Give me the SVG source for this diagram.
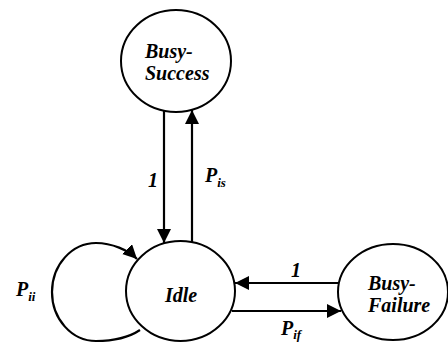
<svg xmlns="http://www.w3.org/2000/svg" width="448" height="343" viewBox="0 0 448 343">
<style>
.node{fill:#fff;stroke:#000;stroke-width:2}
.edge{fill:none;stroke:#000;stroke-width:2.2}
text{font-family:"Liberation Serif","Times New Roman",serif;font-weight:bold;font-style:italic;fill:#000}
.lbl{font-size:20px}
.sub{font-size:13px}
</style>
<defs>
<marker id="ah" markerUnits="userSpaceOnUse" markerWidth="15" markerHeight="15" refX="14" refY="7" orient="auto">
<path d="M0,0 L14,7 L0,14 z" fill="#000"/>
</marker>
</defs>
<rect width="448" height="343" fill="#fff"/>
<g id="busy-success">
<ellipse class="node" cx="176" cy="61" rx="55" ry="51"/>
<text class="lbl" x="145" y="58">Busy-</text>
<text class="lbl" x="145" y="80">Success</text>
</g>
<g id="idle">
<ellipse class="node" cx="180.5" cy="291" rx="54.5" ry="50"/>
<text class="lbl" x="165" y="302">Idle</text>
</g>
<g id="busy-failure">
<ellipse class="node" cx="393" cy="292" rx="55" ry="48"/>
<text class="lbl" x="368" y="290">Busy-</text>
<text class="lbl" x="368" y="312">Failure</text>
</g>
<g id="connectors">
<line class="edge" x1="164" y1="111" x2="164" y2="243" marker-end="url(#ah)"/>
<line class="edge" x1="192" y1="242" x2="192" y2="110" marker-end="url(#ah)"/>
<line class="edge" x1="339" y1="283" x2="235" y2="283" marker-end="url(#ah)"/>
<line class="edge" x1="232" y1="311" x2="341" y2="311" marker-end="url(#ah)"/>
<path class="edge" d="M140,330 C128,338 112,341 96,341 C71.7,341 52,319 52,292 C52,265 71.7,243 96,243 C112,243 128,250 137,259" marker-end="url(#ah)"/>
<text class="lbl" x="148" y="187">1</text>
<text class="lbl" x="205" y="182">P<tspan class="sub" dy="5">is</tspan></text>
<text class="lbl" x="291" y="277">1</text>
<text class="lbl" x="281" y="335">P<tspan class="sub" dy="4">if</tspan></text>
<text class="lbl" x="16" y="296">P<tspan class="sub" dy="5">ii</tspan></text>
</g>
</svg>
